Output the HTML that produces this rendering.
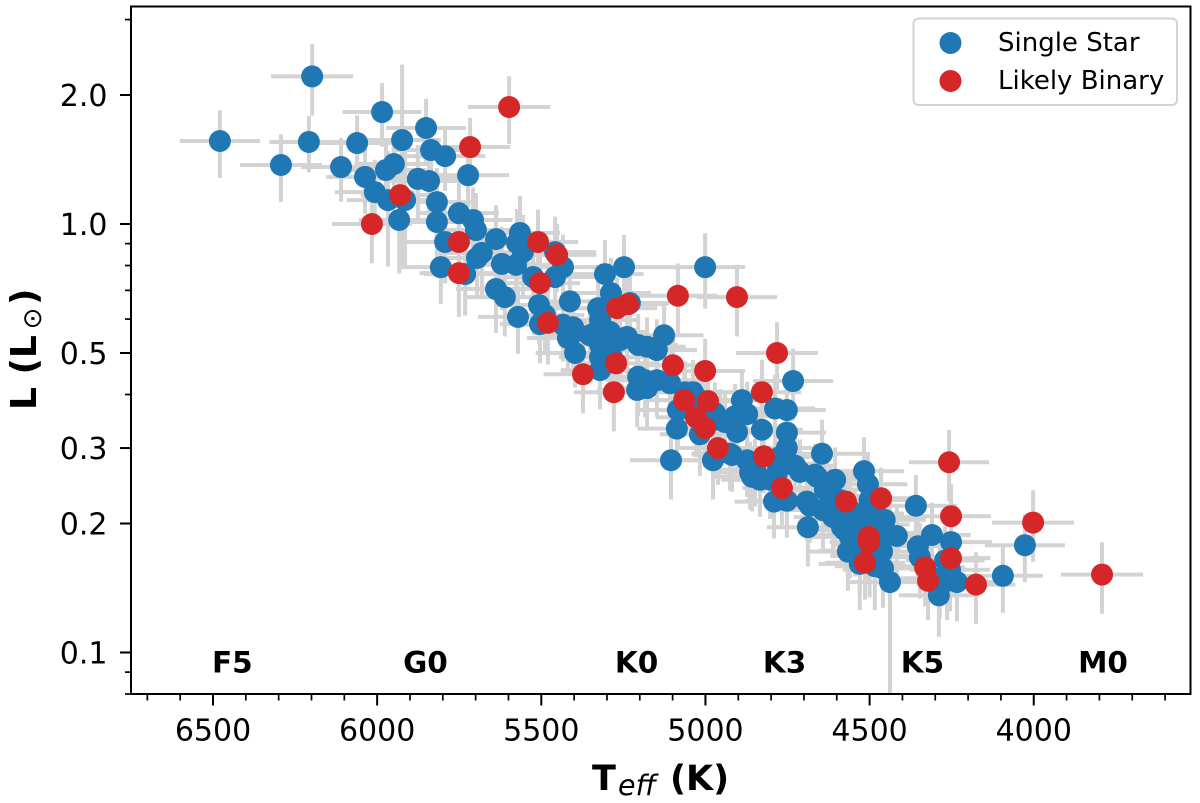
<!DOCTYPE html>
<html lang="en">
<head>
<meta charset="utf-8">
<title>Stellar luminosity vs effective temperature</title>
<style>
html,body{margin:0;padding:0;background:#fff;}
svg{display:block;}
text{font-family:"DejaVu Sans","Liberation Sans",sans-serif;fill:#000;}
.tick-label{font-size:30px;}
.spec-label{font-size:29.5px;font-weight:bold;}
.legend-text{font-size:26px;}
.axis-title{font-size:35px;font-weight:bold;}
</style>
</head>
<body>
<svg id="chart" xmlns="http://www.w3.org/2000/svg" width="1200" height="803" viewBox="0 0 1200 803">
  <defs>
    <clipPath id="plot-clip"><rect x="131" y="6" width="1059.5" height="688"/></clipPath>
  </defs>
  <rect x="0" y="0" width="1200" height="803" fill="#fff"/>
  <g id="error-bars" clip-path="url(#plot-clip)"></g>
  <g id="single-points" clip-path="url(#plot-clip)"></g>
  <g id="binary-points" clip-path="url(#plot-clip)"></g>
  <g id="spec-labels"></g>
  <rect x="131" y="6.5" width="1059.5" height="687.5" fill="none" stroke="#000" stroke-width="2"/>
  <g id="x-axis"></g>
  <g id="y-axis"></g>

  <g>
    <text class="axis-title" x="592" y="790">T</text>
    <text x="618" y="795" style="font-size:28.5px;font-style:italic;">eff</text>
    <text class="axis-title" x="670" y="790">(K)</text>
  </g>
  <g>
    <text class="axis-title" style="font-size:36px;" transform="translate(36,410) rotate(-90)">L (L</text>
    <text style="font-size:26px;" text-anchor="middle" transform="translate(41,318.5) rotate(-90)">⊙</text>
    <text class="axis-title" style="font-size:36px;" transform="translate(36,305) rotate(-90)">)</text>
  </g>

  <g>
    <rect x="913.5" y="18.5" width="263.5" height="86.5" rx="5" ry="5" fill="#fff" fill-opacity="0.8" stroke="#d3d3d3" stroke-width="2"/>
    <circle cx="950.5" cy="43" r="11" fill="#1f77b4"/>
    <text class="legend-text" x="998" y="51">Single Star</text>
    <circle cx="950.5" cy="81" r="11" fill="#d62728"/>
    <text class="legend-text" x="998" y="89">Likely Binary</text>
  </g>
</svg>
<script>
const singleTeff = [
  6198,5985,6479,6208,6061,5924,5851,6293,6110,5836,
  5793,5723,5949,5973,6037,6007,5967,5915,5933,5876,
  5842,5818,5818,5751,5708,5699,5793,5638,5565,5574,
  5806,5732,5681,5696,5620,5577,5638,5611,5556,5458,
  5434,5458,5525,5571,5507,5489,5504,5413,5306,5248,
  5288,5230,5327,5321,5434,5403,5419,5397,5321,5291,
  5239,5205,5178,5148,5126,5321,5285,5321,5001,5205,
  5208,5178,5148,5108,5038,5062,5084,4971,4940,4904,
  5087,5017,4889,4873,4788,4752,4733,4828,4752,4752,
  5105,4977,4919,4873,4858,4773,4749,4782,4645,4660,
  4791,4752,4691,4864,4712,4666,4605,4517,4505,4682,
  4688,4621,4642,4611,4584,4520,4474,4560,4566,4468,
  4417,4462,4459,4438,4359,4310,4353,4347,4252,4255,
  4289,4234,4264,4094,4027,4925,4849,4560,4530,4500,
  4530,4500,4545,4590,4500,4454,4636,4727,4803,4834,
  5327,5321,5352,5260,5291,5403,5184,5017,4955,4910,
  4576,4545,4484,4270,4286,4530,4484,4468,4605,4576
];
const singleLum = [
  2.21,1.825,1.562,1.554,1.545,1.57,1.675,1.373,1.358,1.488,
  1.44,1.30,1.38,1.337,1.288,1.187,1.137,1.137,1.022,1.274,
  1.26,1.125,1.011,1.06,1.022,0.968,0.908,0.922,0.953,0.903,
  0.793,0.764,0.856,0.833,0.807,0.803,0.705,0.675,0.86,0.86,
  0.793,0.752,0.752,0.607,0.647,0.613,0.584,0.66,0.764,0.793,
  0.69,0.654,0.636,0.597,0.582,0.574,0.542,0.5,0.545,0.56,
  0.545,0.522,0.517,0.508,0.55,0.489,0.489,0.456,0.793,0.44,
  0.41,0.414,0.432,0.425,0.405,0.405,0.368,0.362,0.345,0.327,
  0.333,0.323,0.388,0.36,0.371,0.368,0.43,0.331,0.326,0.30,
  0.281,0.281,0.289,0.281,0.257,0.286,0.276,0.263,0.291,0.257,
  0.225,0.226,0.225,0.263,0.264,0.26,0.253,0.265,0.247,0.22,
  0.196,0.232,0.215,0.207,0.196,0.211,0.207,0.186,0.172,0.19,
  0.187,0.172,0.157,0.146,0.22,0.188,0.177,0.167,0.181,0.156,
  0.136,0.146,0.147,0.151,0.178,0.291,0.267,0.215,0.193,0.199,
  0.173,0.168,0.204,0.227,0.227,0.204,0.24,0.273,0.253,0.253,
  0.566,0.523,0.55,0.536,0.523,0.556,0.432,0.388,0.349,0.356,
  0.21,0.188,0.178,0.164,0.149,0.161,0.159,0.181,0.22,0.193
];
const singleTeffErr = [
  125,120,122,120,122,118,122,125,122,120,
  122,125,120,122,118,122,125,120,122,122,
  118,125,120,122,120,125,122,118,122,120,
  122,125,120,122,118,125,122,120,122,125,
  120,122,118,122,125,120,122,122,118,125,
  122,120,125,122,118,122,125,120,122,120,
  125,122,118,122,120,125,122,120,122,125,
  122,118,125,120,122,122,120,125,122,118,
  120,122,125,120,122,118,122,125,120,122,
  125,122,120,122,118,122,125,120,122,122,
  120,125,122,118,122,120,125,122,120,122,
  125,122,118,120,122,125,122,120,122,118,
  122,125,120,122,125,118,122,120,125,122,
  122,120,125,122,122,118,122,125,120,122,
  125,120,122,118,122,125,120,122,122,118,
  120,125,122,118,122,125,120,122,120,125,
  122,118,125,120,122,125,122,118,122,120
];
const singleLumFrac = [
  0.19,0.17,0.18,0.15,0.16,0.50,0.17,0.18,0.17,0.18,
  0.17,0.16,0.18,0.17,0.18,0.19,0.30,0.30,0.25,0.20,
  0.18,0.20,0.22,0.20,0.19,0.22,0.20,0.20,0.22,0.20,
  0.18,0.20,0.21,0.19,0.22,0.20,0.21,0.19,0.22,0.21,
  0.19,0.21,0.20,0.18,0.19,0.18,0.19,0.20,0.20,0.19,
  0.21,0.20,0.19,0.18,0.18,0.17,0.18,0.17,0.18,0.19,
  0.18,0.18,0.17,0.18,0.20,0.18,0.17,0.19,0.20,0.19,
  0.18,0.19,0.18,0.18,0.19,0.18,0.19,0.18,0.17,0.18,
  0.19,0.20,0.18,0.19,0.20,0.19,0.19,0.19,0.18,0.19,
  0.19,0.19,0.18,0.18,0.17,0.19,0.18,0.18,0.20,0.19,
  0.18,0.18,0.19,0.18,0.19,0.18,0.19,0.20,0.19,0.18,
  0.19,0.18,0.19,0.18,0.19,0.18,0.19,0.20,0.19,0.18,
  0.19,0.18,0.19,0.55,0.18,0.19,0.19,0.20,0.19,0.20,
  0.20,0.19,0.19,0.18,0.18,0.18,0.18,0.19,0.20,0.19,
  0.21,0.20,0.19,0.18,0.19,0.19,0.18,0.18,0.19,0.18,
  0.18,0.19,0.18,0.19,0.18,0.19,0.18,0.19,0.18,0.19,
  0.19,0.20,0.19,0.20,0.19,0.22,0.21,0.20,0.19,0.20
];

const binaryTeff = [
  5598,5717,5930,6016,5751,5751,5510,5452,5504,5480,
  5084,4904,4782,5269,5236,5272,5373,5279,5099,5001,
  5065,4992,5029,5001,4962,4828,4822,4767,4572,4465,
  4502,4502,4514,4258,4252,4252,4002,4331,4322,4176,
  3792
];
const binaryLum = [
  1.875,1.512,1.168,1.0,0.908,0.768,0.908,0.847,0.728,0.588,
  0.68,0.675,0.5,0.636,0.65,0.473,0.446,0.405,0.468,0.454,
  0.388,0.386,0.354,0.334,0.30,0.405,0.287,0.242,0.225,0.229,
  0.186,0.181,0.162,0.278,0.208,0.166,0.201,0.158,0.147,0.144,
  0.152
];
const binaryTeffErr = [
  125,122,120,122,122,120,122,120,122,120,
  120,122,125,122,120,122,120,122,120,122,
  122,120,122,118,122,120,122,120,122,120,
  122,120,122,122,122,120,125,122,120,120,
  125
];
const binaryLumFrac = [
  0.18,0.17,0.18,0.19,0.20,0.21,0.19,0.18,0.19,0.20,
  0.19,0.19,0.18,0.18,0.18,0.19,0.19,0.19,0.18,0.19,
  0.18,0.19,0.18,0.19,0.18,0.19,0.18,0.18,0.19,0.18,
  0.18,0.19,0.18,0.19,0.19,0.19,0.19,0.19,0.19,0.19,
  0.19
];

const xMajorTicks = [6500,6000,5500,5000,4500,4000];
const xMinorTicks = [6700,6600,6400,6300,6200,6100,5900,5800,5700,5600,5400,5300,5200,5100,4900,4800,4700,4600,4400,4300,4200,4100,3900,3800,3700,3600];
const yMajorTicks = [0.1,0.2,0.3,0.5,1,2];
const yTickLabels = ['0.1','0.2','0.3','0.5','1.0','2.0'];
const yMinorTicks = [0.08,0.09,0.4,0.6,0.7,0.8,0.9,3];
const specLabels = ['F5','G0','K0','K3','K5','M0'];
const specTeff = [6503,5921,5276,4825,4405,3865];
const specLum = [0.0898,0.0898,0.0898,0.0898,0.0898,0.0898];

const SVGNS = 'http://www.w3.org/2000/svg';
function xScale(t){ return 213 + (6500 - t) * 0.3283; }
function yScale(l){ return 224 - 428.5 * Math.log10(l); }
function make(tag, attrs, parent){
  const el = document.createElementNS(SVGNS, tag);
  for (const k in attrs) el.setAttribute(k, attrs[k]);
  parent.appendChild(el);
  return el;
}

const barsG = document.getElementById('error-bars');
const singleG = document.getElementById('single-points');
const binaryG = document.getElementById('binary-points');
const xAxisG = document.getElementById('x-axis');
const yAxisG = document.getElementById('y-axis');
const specG = document.getElementById('spec-labels');

function drawBars(teff, lum, teffErr, lumFrac){
  teff.forEach(function(t, i){
    const l = lum[i];
    const dl = l * lumFrac[i];
    const h = make('line', {x1:xScale(t - teffErr[i]), x2:xScale(t + teffErr[i]), y1:yScale(l), y2:yScale(l), stroke:'#d3d3d3', 'stroke-width':4}, barsG);
    
    
    const v = make('line', {x1:xScale(t), x2:xScale(t), y1:yScale(l + dl), y2:yScale(Math.max(l - dl, 0.01)), stroke:'#d3d3d3', 'stroke-width':4}, barsG);
    
    
  });
}
drawBars(singleTeff, singleLum, singleTeffErr, singleLumFrac);
drawBars(binaryTeff, binaryLum, binaryTeffErr, binaryLumFrac);

singleTeff.forEach(function(t, i){
  const c = make('circle', {cx:xScale(t), cy:yScale(singleLum[i]), r:11, fill:'#1f77b4'}, singleG);
  
  
});
binaryTeff.forEach(function(t, i){
  const c = make('circle', {cx:xScale(t), cy:yScale(binaryLum[i]), r:11, fill:'#d62728'}, binaryG);
  
  
});

specLabels.forEach(function(s, i){
  const el = make('text', {x:xScale(specTeff[i]), y:yScale(specLum[i]), class:'spec-label'}, specG);
  el.textContent = s;
  
  
});

xMajorTicks.forEach(function(t){
  const x = xScale(t);
  const tk = make('line', {x1:x, x2:x, y1:694, y2:705.5, stroke:'#000', 'stroke-width':2}, xAxisG);
  
  
  const lb = make('text', {x:x, y:740.5, 'text-anchor':'middle', class:'tick-label'}, xAxisG);
  lb.textContent = String(t);
  
  
});
xMinorTicks.forEach(function(t){
  const x = xScale(t);
  const tk = make('line', {x1:x, x2:x, y1:694, y2:700.5, stroke:'#000', 'stroke-width':1.7}, xAxisG);
  
  
});
yMajorTicks.forEach(function(l, i){
  const y = yScale(l);
  const tk = make('line', {x1:120, x2:131, y1:y, y2:y, stroke:'#000', 'stroke-width':2}, yAxisG);
  
  
  const lb = make('text', {x:107.5, y:y + 11, 'text-anchor':'end', class:'tick-label'}, yAxisG);
  lb.textContent = yTickLabels[i];
  
  
});
yMinorTicks.forEach(function(l){
  const y = yScale(l);
  const tk = make('line', {x1:125, x2:131, y1:y, y2:y, stroke:'#000', 'stroke-width':1.7}, yAxisG);
  
  
});
</script>
</body>
</html>
